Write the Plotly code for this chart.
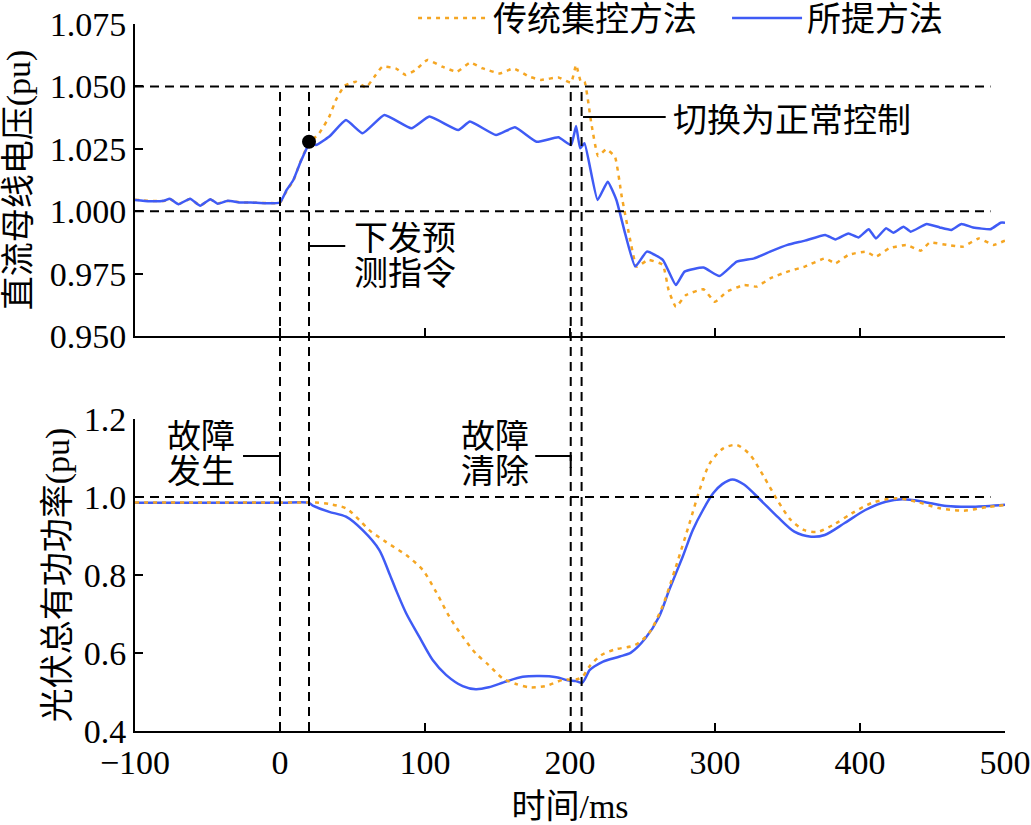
import plotly.graph_objects as go

# ---- data ----
t_v_blue = [-100, -90, -80, -76, -70, -62, -55, -48, -43, -36, -28, -20, -10, 0,
            4.6, 9.2, 13.8, 18.4, 20, 24.8, 34, 45.5, 57, 72, 90.6, 103, 123, 131,
            149, 162, 177, 192, 200.7, 204.2, 207, 210, 219, 226, 232, 238, 245,
            253, 264, 273, 279, 292, 303, 315, 327, 338, 350, 362, 376, 383, 392,
            399, 406, 411, 418, 423, 430, 435, 446, 455, 463, 470, 478, 490, 497, 500]
v_blue = [1.0045, 1.0040, 1.0042, 1.0050, 1.0028, 1.0050, 1.0022, 1.0048, 1.0030,
          1.0042, 1.0035, 1.0035, 1.0032, 1.0035,
          1.0085, 1.0125, 1.0192, 1.0252, 1.0272, 1.0265, 1.0299, 1.0365, 1.0312,
          1.0385, 1.0332, 1.0379, 1.0325, 1.0359, 1.0305, 1.0336, 1.0278, 1.0296,
          1.0265, 1.0341, 1.0252, 1.0272, 1.0045, 1.0118, 1.0045, 0.9911, 0.9778,
          0.9838, 0.9805, 0.9704, 0.9758, 0.9774, 0.9740, 0.9798, 0.9811, 0.9838,
          0.9865, 0.9882, 0.9905, 0.9887, 0.9911, 0.9895, 0.9928, 0.9891, 0.9932,
          0.9914, 0.9938, 0.9918, 0.9949, 0.9935, 0.9925, 0.9949, 0.9935, 0.9928,
          0.9954, 0.9954]

t_v_orange = [-100, -90, -80, -76, -70, -62, -55, -48, -43, -36, -28, -20, -10, 0,
              4.6, 9.2, 13.8, 18.4, 20, 27, 34, 38.6, 44.4, 52.4, 59.3, 66, 70.6,
              79.8, 86.7, 93.6, 101.7, 112, 122, 131, 140, 151.7, 161, 172, 180, 192,
              200.7, 204.2, 207.5, 210, 214.7, 219.4, 225, 231, 235.7, 241.5, 246,
              254, 264, 268, 273, 280, 292, 300, 308, 320, 329, 338, 350, 362, 376,
              383, 392, 404, 411, 420, 432, 442, 448, 460, 471, 482, 492, 500]
v_orange = [1.0046, 1.0041, 1.0041, 1.0049, 1.0029, 1.0049, 1.0023, 1.0047, 1.0031,
            1.0041, 1.0036, 1.0034, 1.0033, 1.0034,
            1.0082, 1.0122, 1.0195, 1.0255, 1.0272, 1.0312, 1.0379, 1.0446, 1.0502,
            1.0519, 1.0496, 1.0546, 1.0579, 1.0572, 1.0546, 1.0566, 1.0606, 1.0579,
            1.0559, 1.0595, 1.0572, 1.0552, 1.0572, 1.0539, 1.0526, 1.0536, 1.0515,
            1.0586, 1.0519, 1.0519, 1.0352, 1.0221, 1.0248, 1.0218, 1.0058, 0.9885,
            0.9778, 0.9805, 0.9785, 0.9684, 0.9617, 0.9664, 0.9687, 0.9637, 0.9677,
            0.9704, 0.9698, 0.9731, 0.9758, 0.9778, 0.9811, 0.9791, 0.9825, 0.9838,
            0.9818, 0.9851, 0.9865, 0.9842, 0.9874, 0.9865, 0.9858, 0.9891, 0.9865,
            0.9882]

t_p_blue = [-100, -50, 0, 20, 23, 34, 45.5, 57, 68.5, 75.4, 80, 87, 96, 105.3, 114.5,
            126, 135, 144, 156, 167.4, 179, 190.6, 198.4, 204, 208.5, 213.5, 217,
            222.8, 234.3, 242, 252, 261.4, 268.4, 277.7, 284.7, 291.7, 298.7, 305,
            312, 320, 331.4, 343, 354.7, 366.3, 375.7, 389.7, 403.7, 417.7, 429.3,
            443.3, 459.7, 478.3, 500]
p_blue = [0.985, 0.985, 0.985, 0.985, 0.977, 0.962, 0.9495, 0.915, 0.864, 0.804,
          0.7615, 0.702, 0.642, 0.582, 0.544, 0.515, 0.507, 0.512, 0.527, 0.539,
          0.541, 0.538, 0.530, 0.528, 0.524, 0.556, 0.566, 0.578, 0.591, 0.601,
          0.6376, 0.693, 0.7615, 0.8469, 0.9154, 0.9667, 1.0094, 1.033, 1.045,
          1.032, 0.9923, 0.9495, 0.911, 0.8982, 0.9026, 0.934, 0.9667, 0.988,
          0.994, 0.988, 0.977, 0.975, 0.980]

t_p_orange = [-100, -50, 0, 20, 24.8, 34, 45.5, 54.7, 61.6, 73, 87, 98.4, 107.6,
              116.8, 126, 135, 144, 153.6, 162.8, 172, 183.4, 195, 204.6, 209,
              213.5, 221.7, 231, 245, 254.4, 263.7, 273, 282.4, 289.4, 296.4, 305.7,
              315, 324.3, 333.7, 343, 352.3, 361.7, 371, 382.7, 394.3, 408.3, 424.7,
              438.7, 455, 471.3, 487.6, 500]
p_orange = [0.986, 0.986, 0.986, 0.986, 0.986, 0.982, 0.971, 0.941, 0.915, 0.885,
            0.851, 0.813, 0.757, 0.693, 0.642, 0.599, 0.569, 0.535, 0.5205, 0.512,
            0.5154, 0.531, 0.5325, 0.541, 0.566, 0.595, 0.609, 0.6205, 0.6504,
            0.7188, 0.821, 0.9325, 1.018, 1.0863, 1.1248, 1.1333, 1.1077, 1.052,
            0.9923, 0.941, 0.915, 0.911, 0.931, 0.958, 0.985, 0.9967, 0.988, 0.971,
            0.965, 0.974, 0.9795]

event_times = [0, 20, 200.5, 208]
cmd_point = (20, 1.0278)

v_ticks = [0.950, 0.975, 1.000, 1.025, 1.050, 1.075]
p_ticks = [0.4, 0.6, 0.8, 1.0, 1.2]
t_ticks = [-100, 0, 100, 200, 300, 400, 500]

ORANGE = '#F5A623'
BLUE = '#3F5BF5'
FONT = 'Liberation Serif, Noto Sans CJK SC'
CN = 34   # chinese text size
NUM = 34  # tick numbers

# plot box in px: left 135, right 1005, top 24, bottom 731
top_dom = [0.5587, 1.0]
bot_dom = [0.0, 0.4413]


def py2paper(py):
    return (731 - py) / 707


fig = go.Figure()
fig.add_trace(go.Scatter(x=t_v_orange, y=v_orange, mode='lines', name='传统集控方法',
                         line=dict(color=ORANGE, width=2.5, dash='4px,5px',
                                   shape='spline', smoothing=0.4),
                         xaxis='x', yaxis='y'))
fig.add_trace(go.Scatter(x=t_v_blue, y=v_blue, mode='lines', name='所提方法',
                         line=dict(color=BLUE, width=2.5, shape='spline', smoothing=0.4),
                         xaxis='x', yaxis='y'))
fig.add_trace(go.Scatter(x=t_p_blue, y=p_blue, mode='lines', showlegend=False,
                         line=dict(color=BLUE, width=2.5, shape='spline', smoothing=0.8),
                         xaxis='x2', yaxis='y2'))
fig.add_trace(go.Scatter(x=t_p_orange, y=p_orange, mode='lines', showlegend=False,
                         line=dict(color=ORANGE, width=2.5, dash='4px,5px',
                                   shape='spline', smoothing=0.8),
                         xaxis='x2', yaxis='y2'))
fig.add_trace(go.Scatter(x=[cmd_point[0]], y=[cmd_point[1]], mode='markers',
                         showlegend=False, marker=dict(color='black', size=14),
                         xaxis='x', yaxis='y'))

dash = dict(color='black', width=2, dash='9px,6px')
shapes = []
# horizontal reference lines
for yv in [1.05, 1.0]:
    shapes.append(dict(type='line', xref='x', yref='y', x0=-100, x1=490, y0=yv, y1=yv, line=dash))
shapes.append(dict(type='line', xref='x2', yref='y2', x0=-100, x1=490, y0=1.0, y1=1.0, line=dash))
# vertical event lines across both panels
y_top = top_dom[0] + (1.05 - 0.95) / 0.125 * (top_dom[1] - top_dom[0])
for tv in event_times:
    shapes.append(dict(type='line', xref='x', yref='paper', x0=tv, x1=tv, y0=0, y1=y_top, line=dash))

solid = dict(color='black', width=2)
# pointers
shapes.append(dict(type='path', xref='x', yref='paper',
                   path=f'M-25.5,{py2paper(456)} L0,{py2paper(456)} L0,{py2paper(468)}', line=solid))
shapes.append(dict(type='path', xref='x', yref='paper',
                   path=f'M176,{py2paper(456)} L200.5,{py2paper(456)} L200.5,{py2paper(468)}', line=solid))
shapes.append(dict(type='line', xref='x', yref='paper', x0=20, x1=45, y0=py2paper(246), y1=py2paper(246), line=solid))
shapes.append(dict(type='line', xref='x', yref='paper', x0=209, x1=266, y0=py2paper(117), y1=py2paper(117), line=solid))

ann_font = dict(family=FONT, size=CN, color='black')
annotations = []
for txt, xv, py in [('故障', -54.5, 436), ('发生', -54.5, 471),
                    ('故障', 148.6, 436), ('清除', 148.6, 471),
                    ('下发预', 86.2, 238), ('测指令', 86.2, 273),
                    ('切换为正常控制', 353.4, 120)]:
    annotations.append(dict(text=txt, x=xv, y=py2paper(py), xref='x', yref='paper',
                            showarrow=False, xanchor='center', yanchor='middle',
                            height=32, font=ann_font))

axis_common = dict(showline=True, linecolor='black', linewidth=2, mirror=False,
                   ticks='inside', ticklen=8, tickwidth=2, tickcolor='black',
                   showgrid=False, zeroline=False, automargin=False,
                   ticklabeloverflow='allow',
                   tickfont=dict(family=FONT, size=NUM, color='black'))

fig.update_layout(
    width=1031, height=825,
    margin=dict(l=135, r=26, t=24, b=94, autoexpand=False),
    paper_bgcolor='white', plot_bgcolor='white',
    font=dict(family=FONT, size=CN, color='black'),
    showlegend=True,
    legend=dict(orientation='h', x=0.3196, xanchor='left', y=1.0488, yanchor='top',
                font=dict(family=FONT, size=CN), bgcolor='rgba(0,0,0,0)',
                itemwidth=70, entrywidth=229, entrywidthmode='pixels',
                tracegroupgap=0),
    xaxis=dict(axis_common, range=[-100, 500], tickvals=t_ticks, showticklabels=False,
               anchor='y', domain=[0, 1]),
    yaxis=dict(axis_common, range=[0.95, 1.075], tickvals=v_ticks,
               ticktext=[f'{v:.3f}' for v in v_ticks], domain=top_dom, anchor='x',
               title=dict(text='直流母线电压(pu)', standoff=10,
                          font=dict(family=FONT, size=CN))),
    xaxis2=dict(axis_common, range=[-100, 500], tickvals=t_ticks,
                ticktext=['\u2212100'] + [str(t) for t in t_ticks[1:]],
                anchor='y2', domain=[0, 1], matches='x',
                title=dict(text='时间/ms', standoff=14, font=dict(family=FONT, size=CN))),
    yaxis2=dict(axis_common, range=[0.4, 1.2], tickvals=p_ticks,
                ticktext=[f'{v:.1f}' for v in p_ticks], domain=bot_dom, anchor='x2',
                title=dict(text='光伏总有功功率(pu)', standoff=4,
                           font=dict(family=FONT, size=CN))),
    shapes=shapes,
    annotations=annotations,
)

# drop the default 8px page margin so the figure sits at the window corner
fig.write_html('out.html', config={'displayModeBar': False},
               post_script="document.body.style.margin='0';")
